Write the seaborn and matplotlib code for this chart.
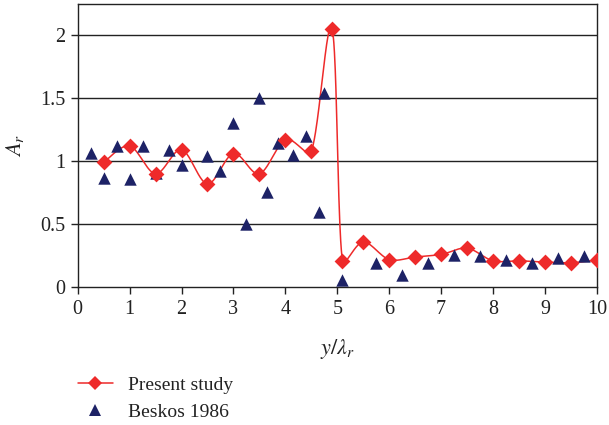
import numpy as np
import pandas as pd
import matplotlib
matplotlib.use("Agg")
import matplotlib.pyplot as plt
from matplotlib.lines import Line2D
import seaborn as sns

# ---- data ----
present_x = [0.5, 1.0, 1.5, 2.0, 2.5, 3.0, 3.5, 4.0, 4.5, 4.9, 5.1, 5.5, 6.0, 6.5, 7.0, 7.5, 8.0, 8.5, 9.0, 9.5, 10.0]
present_y = [0.99, 1.12, 0.90, 1.09, 0.82, 1.06, 0.90, 1.17, 1.08, 2.05, 0.21, 0.36, 0.22, 0.24, 0.26, 0.31, 0.21, 0.21, 0.20, 0.195, 0.215]
beskos_x = [0.25, 0.5, 0.75, 1.0, 1.25, 1.5, 1.75, 2.0, 2.5, 2.75, 3.0, 3.25, 3.5, 3.65, 3.85, 4.15, 4.4, 4.65, 4.75, 5.1,
            5.75, 6.25, 6.75, 7.25, 7.75, 8.25, 8.75, 9.25, 9.75]
beskos_y = [1.065, 0.87, 1.12, 0.855, 1.12, 0.905, 1.085, 0.97, 1.04, 0.92, 1.30, 0.50, 1.50, 0.755, 1.14, 1.05, 1.195, 0.60, 1.54, 0.058,
            0.195, 0.10, 0.195, 0.255, 0.25, 0.22, 0.195, 0.23, 0.25]
x_ticks = [0, 1, 2, 3, 4, 5, 6, 7, 8, 9, 10]
y_ticks = [0, 0.5, 1, 1.5, 2]
y_tick_labels = ["0", "0.5", "1", "1.5", "2"]
series_names = ["Present study", "Beskos 1986"]

RED = "#ee2a2a"
NAVY = "#1d2266"


def smooth_curve(xs, ys, sx=52.0, sy=126.0, k=1.0 / 3.0, n=40):
    """Bezier smoothing through the data points (spreadsheet-style smoothed line);
    tangent length = min(catmull-rom length, k * segment length), in a display-like space."""
    P = np.column_stack([np.asarray(xs) * sx, np.asarray(ys) * sy]).astype(float)
    m = len(P)
    out = []
    for i in range(m - 1):
        p0 = P[i - 1] if i > 0 else P[i]
        p1 = P[i]
        p2 = P[i + 1]
        p3 = P[i + 2] if i + 2 < m else P[i + 1]
        seg_len = np.linalg.norm(p2 - p1)
        t1 = (p2 - p0) / 6.0
        t2 = (p3 - p1) / 6.0
        for tv in (t1, t2):
            L = np.linalg.norm(tv)
            cap = k * seg_len
            if L > cap and L > 0:
                tv *= cap / L
        b1 = p1 + t1
        b2 = p2 - t2
        t = np.linspace(0, 1, n)[:, None]
        seg = ((1 - t) ** 3) * p1 + 3 * ((1 - t) ** 2) * t * b1 + 3 * (1 - t) * t ** 2 * b2 + t ** 3 * p2
        if i > 0:
            seg = seg[1:]
        out.append(seg)
    c = np.vstack(out)
    return c[:, 0] / sx, c[:, 1] / sy


sns.set_theme(style="white")
plt.rcParams["font.family"] = ["Liberation Serif", "DejaVu Serif"]
plt.rcParams["mathtext.fontset"] = "stix"

fig = plt.figure(figsize=(6.09, 4.25), dpi=100)
ax = fig.add_axes([0.1276, 0.324, 0.980 - 0.1276, 0.9906 - 0.324])

cx, cy = smooth_curve(present_x, present_y)
df_curve = pd.DataFrame({"x": cx, "y": cy})
df_p = pd.DataFrame({"x": present_x, "y": present_y})
df_b = pd.DataFrame({"x": beskos_x, "y": beskos_y})

sns.lineplot(data=df_curve, x="x", y="y", sort=False, estimator=None, ax=ax,
             color=RED, linewidth=1.1, zorder=3)
sns.scatterplot(data=df_b, x="x", y="y", ax=ax, marker="^", color=NAVY, s=80,
                linewidth=0, zorder=4)
sns.scatterplot(data=df_p, x="x", y="y", ax=ax, marker="D", color=RED, s=65,
                linewidth=0, zorder=5)

ax.set_xlim(0, 10)
ax.set_ylim(0, 2.245)
ax.set_xticks(x_ticks)
ax.set_yticks(y_ticks)
ax.set_yticklabels(y_tick_labels)
for yv in y_ticks[1:]:
    ax.axhline(yv, color="#222222", linewidth=1.0, zorder=1)

for s in ax.spines.values():
    s.set_color("#222222")
    s.set_linewidth(1.0)
ax.tick_params(axis="both", which="major", direction="out", length=5, width=1.0,
               color="#222222", labelsize=14.5, labelcolor="#222222", pad=4)
ax.tick_params(axis="x", bottom=True, top=False)
ax.tick_params(axis="y", left=True, right=False)

ax.set_xlabel(r"$y/\lambda_r$", fontsize=16, color="#222222", labelpad=13)
ax.set_ylabel(r"$A_r$", fontsize=16, color="#222222", labelpad=10)

handles = [
    Line2D([0], [0], color=RED, linewidth=1.1, marker="D", markersize=7.5, markeredgewidth=0),
    Line2D([0], [0], color=NAVY, linestyle="none", marker="^", markersize=8.5, markeredgewidth=0),
]
leg = fig.legend(handles, series_names, loc="upper left",
                 frameon=False, fontsize=14, handlelength=1.8, handletextpad=0.75,
                 labelspacing=0.45, borderaxespad=0, borderpad=0, labelcolor="#222222")
leg.set_bbox_to_anchor((0.128, 0.114), transform=fig.transFigure)

fig.savefig("out.png", dpi=100)
